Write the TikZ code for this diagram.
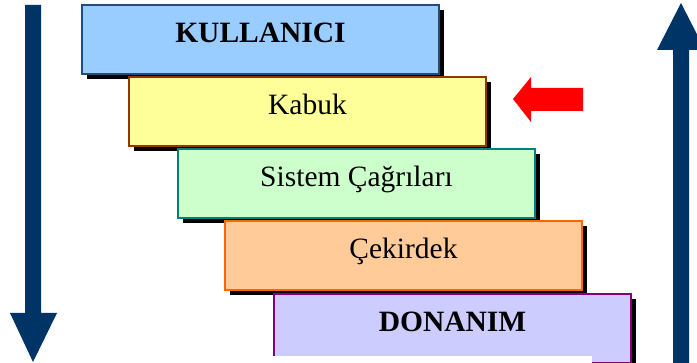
\documentclass[tikz,border=0pt]{standalone}
\usepackage{fontspec}
\setmainfont{Liberation Serif}
\definecolor{navy}{HTML}{003366}
\definecolor{b1fill}{HTML}{99CCFF}
\definecolor{b1line}{HTML}{1F4E79}
\definecolor{b2fill}{HTML}{FFFF99}
\definecolor{b2line}{HTML}{993300}
\definecolor{b3fill}{HTML}{CCFFCC}
\definecolor{b3line}{HTML}{008080}
\definecolor{b4fill}{HTML}{FFCC99}
\definecolor{b4line}{HTML}{FF6600}
\definecolor{b5fill}{HTML}{CCCCFF}
\definecolor{b5line}{HTML}{800080}
\tikzset{
  layerbox/.style={rectangle, line width=2pt, minimum width=357pt, minimum height=69pt,
    anchor=north west, inner sep=0pt, font=\fontsize{29.5}{32}\selectfont,
    text height=17pt, text depth=10pt,
    preaction={fill=black, transform canvas={xshift=5pt,yshift=-5pt}}},
}
\begin{document}
\begin{tikzpicture}[x=1pt,y=-1pt]
\useasboundingbox (0,0) rectangle (697,363);
\begin{scope}
\clip (0,0) rectangle (697,363);
% left arrow
\fill[navy] (25,5) -- (41,5) -- (41,313) -- (57,313) -- (33,362) -- (10,313) -- (25,313) -- cycle;
% right arrow
\fill[navy] (681,3) -- (705,50) -- (689,50) -- (689,370) -- (673,370) -- (673,50) -- (657,50) -- cycle;
% boxes
\node[layerbox, draw=b1line, fill=b1fill, font=\fontsize{29.5}{32}\selectfont\bfseries] (kul) at (81,4) {KULLANICI};
\node[layerbox, draw=b2line, fill=b2fill] (kab) at (128,76) {Kabuk};
\node[layerbox, draw=b3line, fill=b3fill] (sis) at (177,148) {Sistem Çağrıları};
\node[layerbox, draw=b4line, fill=b4fill] (cek) at (224,220) {Çekirdek};
\node[layerbox, draw=b5line, fill=b5fill, font=\fontsize{29.5}{32}\selectfont\bfseries] (don) at (273,293) {DONANIM};
% white strip hiding the bottom of the last box
\fill[white] (150,356) rectangle (592,364);
% red arrow
\fill[red] (513,99) -- (531,77) -- (531,88) -- (583,88) -- (583,111) -- (531,111) -- (531,122) -- cycle;
\end{scope}
\end{tikzpicture}
\end{document}
